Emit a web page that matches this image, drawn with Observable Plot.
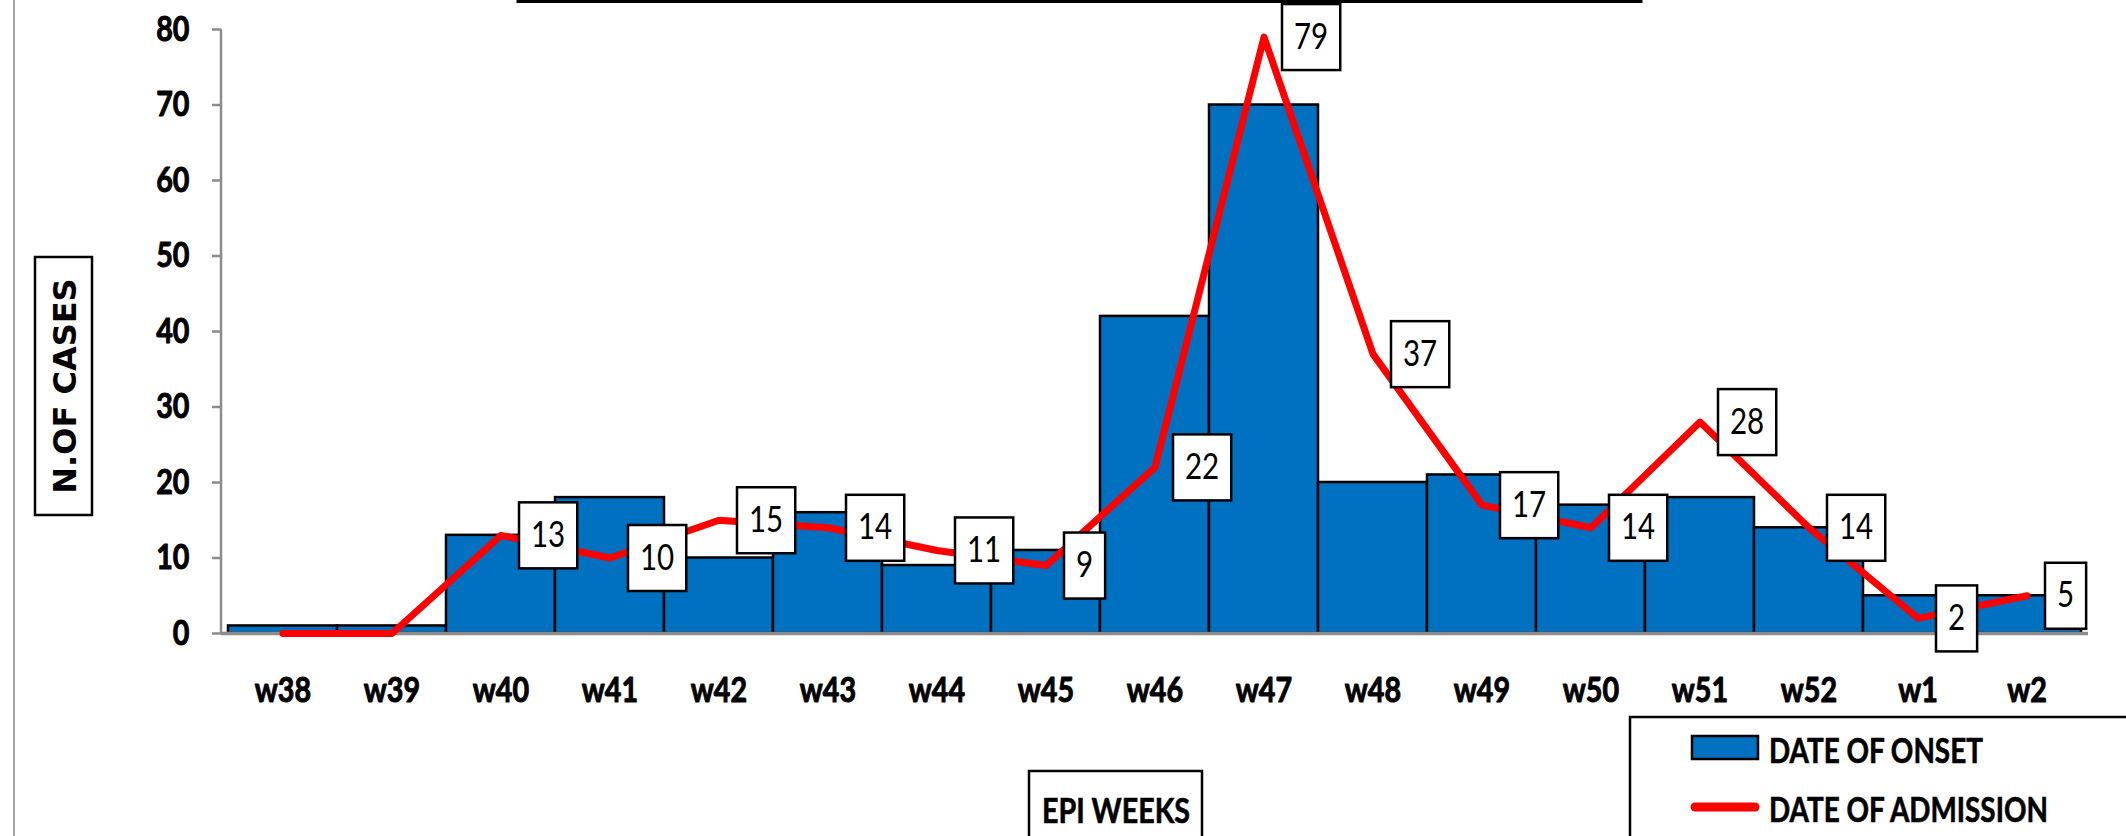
<!DOCTYPE html>
<html><head><meta charset="utf-8">
<script src="https://cdn.jsdelivr.net/npm/d3@7"></script>
<script src="https://cdn.jsdelivr.net/npm/@observablehq/plot@0.6"></script>
<style>
html,body{margin:0;padding:0;background:#fff;}
#chart{position:relative;width:2126px;height:836px;overflow:hidden;}
</style></head><body><div id="chart"></div>
<script>
const weeks = ["w38","w39","w40","w41","w42","w43","w44","w45","w46","w47","w48","w49","w50","w51","w52","w1","w2"];
const onset = [1,1,13,18,10,16,9,11,42,70,20,21,17,18,14,5,5];
const admission = [0,0,13,10,15,14,11,9,22,79,37,17,14,28,14,2,5];
const yTicks = [0,10,20,30,40,50,60,70,80];
const seriesNames = ["DATE OF ONSET","DATE OF ADMISSION"];
const xTitle = "EPI WEEKS";
const yTitle = "N.OF CASES";

const rows = weeks.map((w,i)=>({week:w, onset:onset[i], admission:admission[i]}));
const labelled = rows.filter(d=>d.admission>0);
const NARROW = 'Lato,"Liberation Sans",sans-serif';
const SX = 0.82;
const BLUE = "#0070C0", RED = "#FF0000";

const plot = Plot.plot({
  width:2126, height:836, marginLeft:221, marginRight:38, marginTop:29, marginBottom:203,
  style:{fontFamily:NARROW, background:"white"},
  x:{domain:weeks, padding:0, label:null},
  y:{domain:[0,80], label:null},
  marks:[
    Plot.barY(rows,{x:"week",y:"onset",fill:BLUE,stroke:"#000",strokeWidth:2.5}),
    Plot.ruleY([0],{stroke:"#8c8c8c",strokeWidth:3.5}),
    Plot.axisY({ticks:yTicks, tickSize:9, tickPadding:23, stroke:"#8c8c8c", strokeWidth:2.5, fontSize:35, fontWeight:"bold", fill:"#000", label:null}),
    Plot.axisX({tickSize:0, tickPadding:44, fontSize:35, fontWeight:"bold", fill:"#000", label:null}),
    Plot.line(rows,{x:"week",y:"admission",stroke:RED,strokeWidth:7,strokeLinejoin:"round",strokeLinecap:"round"}),
    Plot.text(labelled,{x:"week",y:"admission",text:d=>String(d.admission),textAnchor:"start",dx:30,fontSize:36,fill:"#000"})
  ]
});
document.getElementById("chart").appendChild(plot);

const NS = "http://www.w3.org/2000/svg";
function narrow(t, sx){
  const tr = t.getAttribute("transform") || "";
  t.setAttribute("transform", `${tr} scale(${sx},1)`);
}

// label boxes behind data labels
plot.querySelectorAll('g[aria-label="text"] text').forEach(t=>{
  const bb = t.getBBox();
  const r = document.createElementNS(NS,"rect");
  r.setAttribute("x", bb.x-12);
  r.setAttribute("y", -33);
  r.setAttribute("width", bb.width*SX+24);
  r.setAttribute("height", 66);
  r.setAttribute("fill","#fff");
  r.setAttribute("stroke","#000");
  r.setAttribute("stroke-width","2.5");
  if (t.getAttribute("transform")) r.setAttribute("transform", t.getAttribute("transform"));
  t.parentNode.insertBefore(r,t);
  narrow(t, SX);
});
plot.querySelectorAll('g[aria-label="y-axis tick label"] text, g[aria-label="x-axis tick label"] text').forEach(t=>{
  t.setAttribute("font-weight","bold");
  t.setAttribute("stroke","#000");
  t.setAttribute("stroke-width","1");
  t.setAttribute("stroke-linejoin","round");
  narrow(t,SX);
});

const svg = d3.select(plot);
const xs = plot.scale("x"), ys = plot.scale("y");
const x0 = xs.range[0];
// y axis line
svg.append("line").attr("x1",x0).attr("x2",x0).attr("y1",ys.apply(80)).attr("y2",ys.apply(0))
  .attr("stroke","#8c8c8c").attr("stroke-width",2.5);
// left border line
svg.append("line").attr("x1",14).attr("x2",14).attr("y1",0).attr("y2",836).attr("stroke","#a6a6a6").attr("stroke-width",2);
// cut-off title box
svg.append("rect").attr("x",518).attr("y",-100).attr("width",1123).attr("height",101.5)
  .attr("fill","none").attr("stroke","#000").attr("stroke-width",3);
// y title
svg.append("rect").attr("x",35).attr("y",257).attr("width",57).attr("height",258)
  .attr("fill","#fff").attr("stroke","#000").attr("stroke-width",2.5);
svg.append("text").attr("transform","translate(64,386) rotate(-90)").attr("text-anchor","middle").attr("dy","0.36em")
  .attr("font-family","'DejaVu Sans',sans-serif").attr("font-weight","bold").attr("font-size",32).attr("fill","#000").text(yTitle);
// x title
svg.append("rect").attr("x",1029).attr("y",771).attr("width",173).attr("height",100)
  .attr("fill","#fff").attr("stroke","#000").attr("stroke-width",2.5);
svg.append("text").attr("transform",`translate(1116,823) scale(${SX},1)`).attr("text-anchor","middle")
  .attr("font-family",NARROW).attr("font-weight","bold").attr("font-size",35).attr("fill","#000")
  .attr("stroke","#000").attr("stroke-width",0.6).text(xTitle);
// legend
svg.append("rect").attr("x",1630).attr("y",717).attr("width",520).attr("height",200)
  .attr("fill","#fff").attr("stroke","#000").attr("stroke-width",2.5);
svg.append("rect").attr("x",1692).attr("y",736).attr("width",66).attr("height",23)
  .attr("fill",BLUE).attr("stroke","#000").attr("stroke-width",2.5);
svg.append("text").attr("transform",`translate(1769,763) scale(${SX},1)`).attr("text-anchor","start")
  .attr("font-family",NARROW).attr("font-weight","bold").attr("font-size",34).attr("fill","#000")
  .attr("stroke","#000").attr("stroke-width",0.6).text(seriesNames[0]);
svg.append("line").attr("x1",1695).attr("x2",1755).attr("y1",807).attr("y2",807)
  .attr("stroke",RED).attr("stroke-width",9).attr("stroke-linecap","round");
svg.append("text").attr("transform",`translate(1769,822) scale(${SX},1)`).attr("text-anchor","start")
  .attr("font-family",NARROW).attr("font-weight","bold").attr("font-size",34).attr("fill","#000")
  .attr("stroke","#000").attr("stroke-width",0.6).text(seriesNames[1]);
</script>
</body></html>
